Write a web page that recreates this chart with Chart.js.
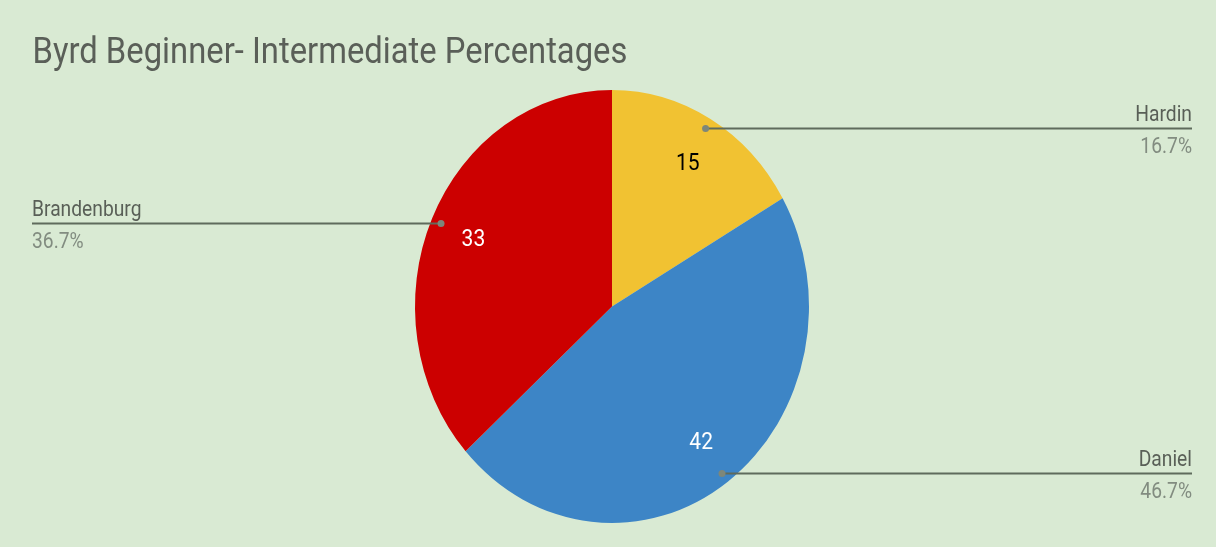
<!DOCTYPE html>
<html>
<head>
<meta charset="utf-8">
<script src="https://cdn.jsdelivr.net/npm/chart.js@4.4.1/dist/chart.umd.min.js"></script>
<style>
  html, body { margin: 0; padding: 0; background: #d9ead3; }
  #wrap { width: 1216px; height: 547px; position: relative; }
</style>
</head>
<body>
<div id="wrap"><canvas id="pieChart"></canvas></div>
<script>
// data
const chartTitle = "Byrd Beginner- Intermediate Percentages";
const labels = ["Hardin", "Daniel", "Brandenburg"];
const values = [15, 42, 33];
const colors = ["#f1c232", "#3d85c6", "#cc0000"];
const valueColors = ["#000000", "#ffffff", "#ffffff"];
const sides = ["right", "right", "left"];

const total = values.reduce((a, b) => a + b, 0);

// the reference pie is a bit taller than wide, and its text is narrow
const yStretch = 216.5 / 197;
const textSqueeze = 0.875;

// draw text squeezed horizontally, anchored at x
function narrowText(ctx, text, x, y, align, squeeze) {
  ctx.save();
  ctx.translate(x, y);
  ctx.scale(squeeze || textSqueeze, 1);
  ctx.textAlign = align;
  ctx.fillText(text, 0, 0);
  ctx.restore();
}

// squash the arcs into an ellipse
const ellipsePlugin = {
  id: "ellipse",
  beforeDatasetsDraw(chart) {
    const arc = chart.getDatasetMeta(0).data[0];
    const ctx = chart.ctx;
    ctx.save();
    ctx.translate(arc.x, arc.y);
    ctx.scale(1, yStretch);
    ctx.translate(-arc.x, -arc.y);
  },
  afterDatasetsDraw(chart) {
    chart.ctx.restore();
  },
};

// title, value labels inside slices, leader lines with name + percent outside
const labelPlugin = {
  id: "sliceLabels",
  afterDraw(chart) {
    const ctx = chart.ctx;

    ctx.save();
    ctx.font = "37px Roboto";
    ctx.fillStyle = "#5a5f58";
    ctx.textBaseline = "alphabetic";
    narrowText(ctx, chartTitle, 32.5, 62.5, "left", 0.886);
    ctx.restore();

    const meta = chart.getDatasetMeta(0);
    meta.data.forEach((arc, i) => {
      const p = arc.getProps(["x", "y", "startAngle", "endAngle", "outerRadius"], true);
      const mid = (p.startAngle + p.endAngle) / 2;
      const r = p.outerRadius;

      // value inside the slice
      const vx = p.x + Math.cos(mid) * r * 0.77;
      const vy = p.y + Math.sin(mid) * r * 0.77 * yStretch;
      ctx.save();
      ctx.font = "24px Roboto";
      ctx.fillStyle = valueColors[i];
      ctx.textBaseline = "middle";
      narrowText(ctx, String(values[i]), vx, vy + 1.5, "center");

      // leader line
      const dx = p.x + Math.cos(mid) * r * 0.95;
      const dy = Math.round(p.y + Math.sin(mid) * r * 0.95 * yStretch) + 0.5;
      const endX = sides[i] === "right" ? 1192 : 32;
      ctx.strokeStyle = "#5f6b5c";
      ctx.lineWidth = 2;
      ctx.beginPath();
      ctx.moveTo(dx, dy);
      ctx.lineTo(endX, dy);
      ctx.stroke();
      ctx.fillStyle = "#7d877a";
      ctx.beginPath();
      ctx.arc(dx, dy, 3.5, 0, Math.PI * 2);
      ctx.fill();

      // name and percentage
      const align = sides[i] === "right" ? "right" : "left";
      ctx.textBaseline = "alphabetic";
      ctx.font = "22px Roboto";
      ctx.fillStyle = "#595f57";
      narrowText(ctx, labels[i], endX, dy - 8, align);
      ctx.fillStyle = "#828c80";
      const pct = ((values[i] / total) * 100).toFixed(1) + "%";
      narrowText(ctx, pct, endX, dy + 24.5, align);
      ctx.restore();
    });
  },
};

const ctx = document.getElementById("pieChart").getContext("2d");
new Chart(ctx, {
  type: "pie",
  data: {
    labels: labels,
    datasets: [
      {
        data: values,
        backgroundColor: colors,
        borderWidth: 0,
      },
    ],
  },
  options: {
    responsive: true,
    maintainAspectRatio: false,
    animation: false,
    layout: {
      padding: { top: 109.5, bottom: 43.5, left: 32, right: 24 },
    },
    plugins: {
      legend: { display: false },
      tooltip: { enabled: false },
      title: { display: false },
    },
  },
  plugins: [ellipsePlugin, labelPlugin],
});
</script>
</body>
</html>
